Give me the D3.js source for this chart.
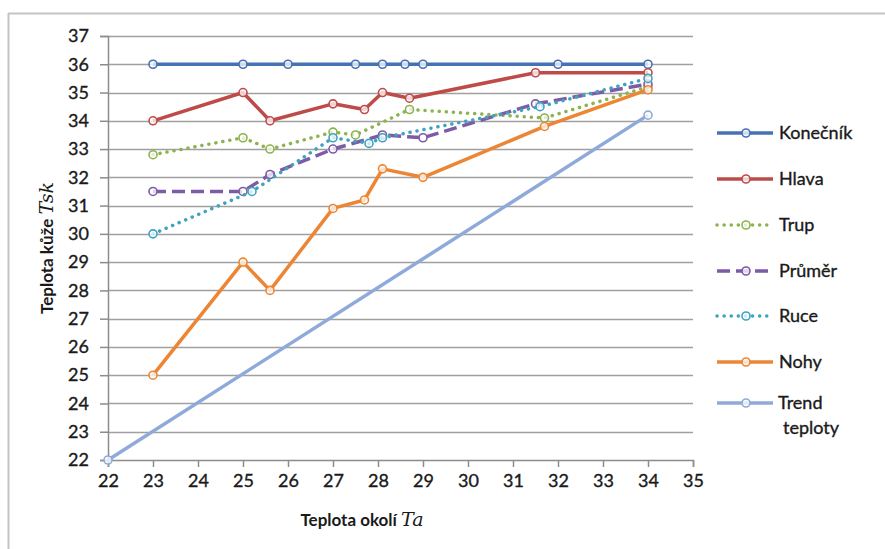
<!DOCTYPE html>
<html>
<head>
<meta charset="utf-8">
<script src="https://cdn.jsdelivr.net/npm/d3@7"></script>
<style>
  html, body { margin: 0; padding: 0; background: #fff; }
  svg { display: block; }
  text { font-family: Lato, "Open Sans", sans-serif; fill: #1a1a1a; }
  .soft { stroke: #1a1a1a; stroke-width: 0.35px; }
</style>
</head>
<body>
<svg id="chart" width="885" height="549"></svg>
<script>
// ---- data ----
const xTicks = [22,23,24,25,26,27,28,29,30,31,32,33,34,35];
const yTicks = [22,23,24,25,26,27,28,29,30,31,32,33,34,35,36,37];

const konecnikX = [23, 25, 26, 27.5, 28.1, 28.6, 29, 32, 34];
const konecnikY = [36, 36, 36, 36, 36, 36, 36, 36, 36];

const hlavaX = [23, 25, 25.6, 27, 27.7, 28.1, 28.7, 31.5, 34];
const hlavaY = [34.0, 35.0, 34.0, 34.6, 34.4, 35.0, 34.8, 35.7, 35.7];

const trupX = [23, 25, 25.6, 27, 27.5, 28.7, 31.7, 34];
const trupY = [32.8, 33.4, 33.0, 33.6, 33.5, 34.4, 34.1, 35.2];

const prumerX = [23, 25, 25.6, 27, 28.1, 29, 31.5, 34];
const prumerY = [31.5, 31.5, 32.1, 33.0, 33.5, 33.4, 34.6, 35.3];

const ruceX = [23, 25.2, 27, 27.8, 28.1, 31.6, 34];
const ruceY = [30.0, 31.5, 33.4, 33.2, 33.4, 34.5, 35.5];

const nohyX = [23, 25, 25.6, 27, 27.7, 28.1, 29, 31.7, 34];
const nohyY = [25.0, 29.0, 28.0, 30.9, 31.2, 32.3, 32.0, 33.8, 35.1];

const trendX = [22, 34];
const trendY = [22, 34.2];

const seriesNames = ["Konečník", "Hlava", "Trup", "Průměr", "Ruce", "Nohy", "Trend teploty"];

// ---- build ----
const series = [
  {name: seriesNames[0], xs: konecnikX, ys: konecnikY, color: "#4472B4", dash: null},
  {name: seriesNames[1], xs: hlavaX, ys: hlavaY, color: "#BE4B48", dash: null},
  {name: seriesNames[2], xs: trupX, ys: trupY, color: "#8DB24E", dash: "0.1 7"},
  {name: seriesNames[3], xs: prumerX, ys: prumerY, color: "#7D5BA6", dash: "13 6"},
  {name: seriesNames[4], xs: ruceX, ys: ruceY, color: "#3FA3C0", dash: "0.1 7"},
  {name: seriesNames[5], xs: nohyX, ys: nohyY, color: "#EC8634", dash: null},
  {name: seriesNames[6], xs: trendX, ys: trendY, color: "#8FAADA", dash: null}
];

const svg = d3.select("#chart");
const pL = 108, pR = 693, pT = 36, pB = 460;

const x = d3.scaleLinear().domain([22, 35]).range([pL, pR]);
const y = d3.scaleLinear().domain([22, 37]).range([pB, pT]);

// frame
svg.append("line").attr("x1", 8).attr("x2", 885).attr("y1", 13.5).attr("y2", 13.5)
  .attr("stroke", "#c4c4c4").attr("stroke-width", 2);
svg.append("line").attr("x1", 8.5).attr("x2", 8.5).attr("y1", 13).attr("y2", 549)
  .attr("stroke", "#c4c4c4").attr("stroke-width", 2);

// gridlines
svg.append("g").selectAll("line").data(yTicks.filter(d => d > 22)).join("line")
  .attr("x1", pL).attr("x2", pR)
  .attr("y1", d => Math.round(y(d)) + 0.5).attr("y2", d => Math.round(y(d)) + 0.5)
  .attr("stroke", "#a0a0a0").attr("stroke-width", 1.3);

// y axis
const yAxis = d3.axisLeft(y).tickValues(yTicks).tickSize(8).tickPadding(11).tickFormat(d3.format("d"));
const gy = svg.append("g").attr("transform", `translate(${pL},0)`).call(yAxis);
gy.select(".domain").attr("stroke", "#8c8c8c").attr("stroke-width", 1.5);
gy.selectAll(".tick line").attr("stroke", "#8c8c8c").attr("stroke-width", 1.5);
gy.selectAll(".tick text").attr("class", "soft").style("font-size", "18px").style("font-family", "Lato, sans-serif").attr("fill", "#1a1a1a");

// x axis
const xAxis = d3.axisBottom(x).tickValues(xTicks).tickSize(7).tickPadding(7).tickFormat(d3.format("d"));
const gx = svg.append("g").attr("transform", `translate(0,${pB})`).call(xAxis);
gx.select(".domain").attr("stroke", "#8c8c8c").attr("stroke-width", 1.5);
gx.selectAll(".tick line").attr("stroke", "#8c8c8c").attr("stroke-width", 1.5);
gx.selectAll(".tick text").attr("class", "soft").style("font-size", "18px").style("font-family", "Lato, sans-serif").attr("fill", "#1a1a1a");

// series
const line = d3.line().x(d => x(d[0])).y(d => y(d[1]));
series.forEach(s => {
  const pts = s.xs.map((v, i) => [v, s.ys[i]]);
  const g = svg.append("g");
  g.append("path").datum(pts).attr("d", line)
    .attr("fill", "none").attr("stroke", s.color).attr("stroke-width", 3.5)
    .attr("stroke-linecap", s.dash && s.dash.startsWith("0.1") ? "round" : "butt")
    .attr("stroke-linejoin", "round")
    .attr("stroke-dasharray", s.dash);
  g.selectAll("circle").data(pts).join("circle")
    .attr("cx", d => x(d[0])).attr("cy", d => y(d[1])).attr("r", 4)
    .attr("fill", "#fff").attr("fill-opacity", 0.75)
    .attr("stroke", s.color).attr("stroke-width", 1.6);
});

// legend
const legY = [133, 179, 225, 271, 316, 362, 403];
series.forEach((s, i) => {
  const g = svg.append("g").attr("transform", `translate(0,${legY[i]})`);
  g.append("line").attr("x1", 717).attr("x2", 773).attr("y1", 0).attr("y2", 0)
    .attr("stroke", s.color).attr("stroke-width", 3.5)
    .attr("stroke-linecap", s.dash && s.dash.startsWith("0.1") ? "round" : "butt")
    .attr("stroke-dasharray", s.dash);
  g.append("circle").attr("cx", 746).attr("cy", 0).attr("r", 4)
    .attr("fill", "#fff").attr("fill-opacity", 0.75)
    .attr("stroke", s.color).attr("stroke-width", 1.6);
  if (i < 6) {
    g.append("text").attr("class", "soft").attr("x", 779).attr("y", 0).attr("dy", "0.35em")
      .style("font-size", "18px").text(s.name);
  } else {
    const parts = s.name.split(" ");
    g.append("text").attr("class", "soft").attr("x", 778).attr("y", 0).attr("dy", "0.35em")
      .style("font-size", "18px").text(parts[0]);
    g.append("text").attr("class", "soft").attr("x", 783).attr("y", 25).attr("dy", "0.35em")
      .style("font-size", "18px").text(parts[1]);
  }
});

// axis titles
const xt = svg.append("text").attr("x", 362).attr("y", 526).attr("text-anchor", "middle")
  .style("font-size", "17px").style("font-weight", "bold");
xt.append("tspan").text("Teplota okolí ");
xt.append("tspan").style("font-family", "'DejaVu Serif', 'Liberation Serif', serif")
  .style("font-style", "italic").style("font-weight", "normal").style("font-size", "19px").text("Ta");

const yt = svg.append("text").attr("transform", "translate(53,248) rotate(-90)")
  .attr("text-anchor", "middle").style("font-size", "17px").style("font-weight", "bold");
yt.append("tspan").text("Teplota kůže ");
yt.append("tspan").style("font-family", "'DejaVu Serif', 'Liberation Serif', serif")
  .style("font-style", "italic").style("font-weight", "normal").style("font-size", "19px").text("Tsk");
</script>
</body>
</html>
